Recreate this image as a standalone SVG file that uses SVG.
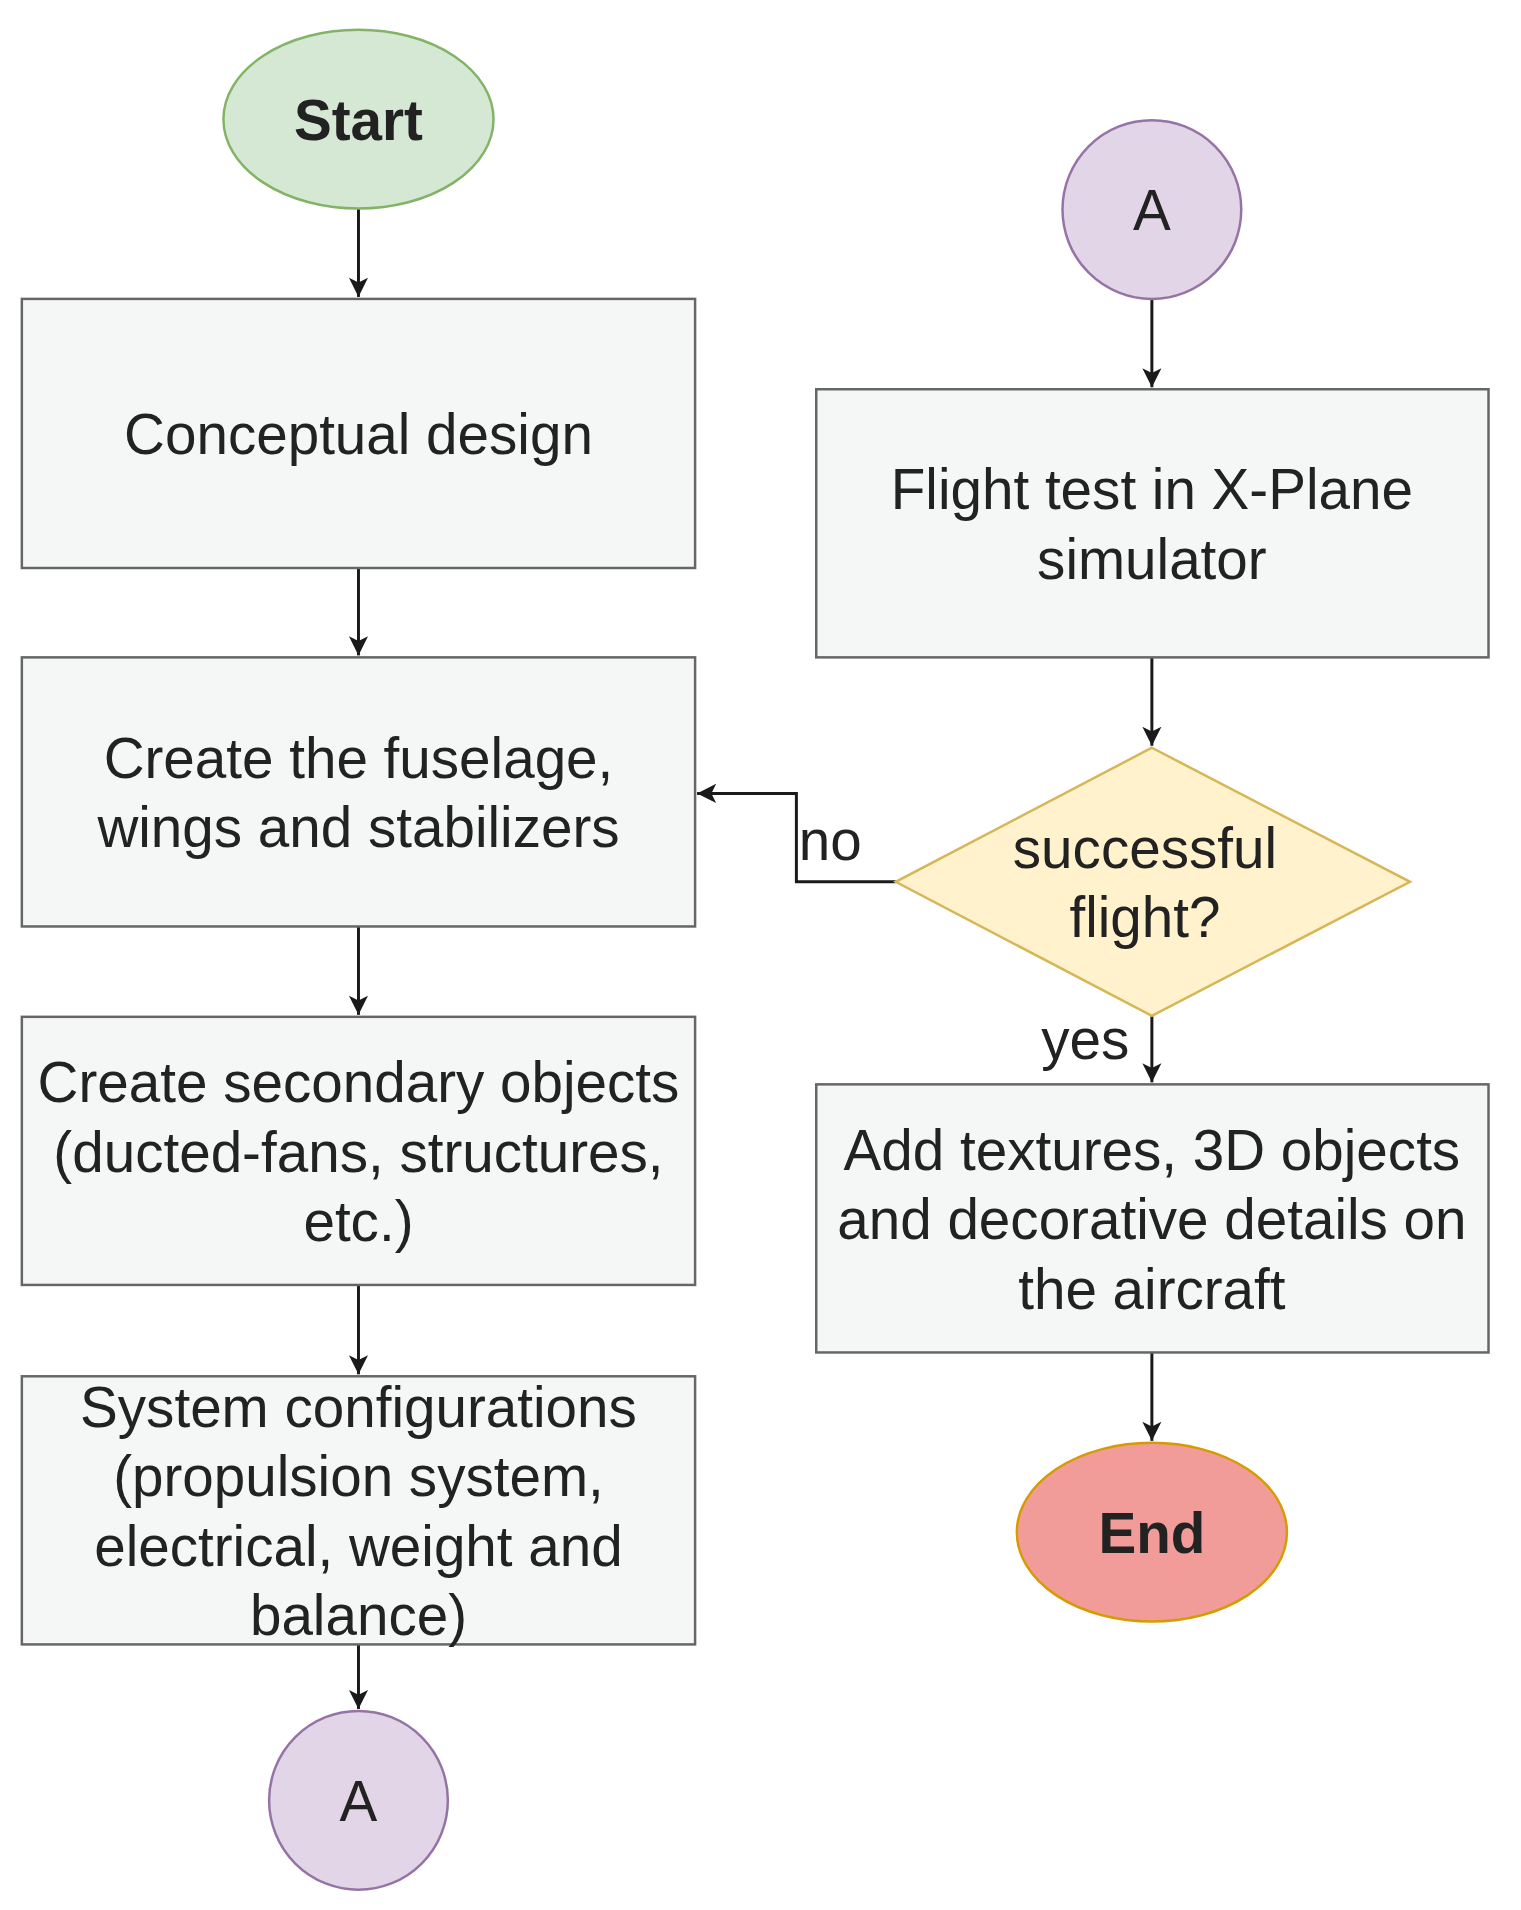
<svg xmlns="http://www.w3.org/2000/svg" width="1521" height="1910" viewBox="0 0 1521 1910">
<style>
.b{fill:#f5f7f6;stroke:#666;stroke-width:2.5}
.t{font-family:"Liberation Sans",Arial,sans-serif;font-size:57px;fill:#222;text-anchor:middle}
.bold{font-weight:bold}
.c{fill:none;stroke:#1a1a1a;stroke-width:3}
.a{fill:#e1d5e7;stroke:#9673a6;stroke-width:2.5}
</style>
<defs>
<marker id="m" viewBox="0 0 20 20" refX="18" refY="10" markerWidth="24" markerHeight="24" markerUnits="userSpaceOnUse" orient="auto">
<path d="M2,2 L18,10 L2,18 L6,10 Z" fill="#1a1a1a"/>
</marker>
</defs>
<rect width="1521" height="1910" fill="#fff"/>
<g transform="scale(0.993)">
<g id="connectors">
<path class="c" d="M361,210 V299" marker-end="url(#m)"/>
<path class="c" d="M361,572 V660" marker-end="url(#m)"/>
<path class="c" d="M361,933 V1022" marker-end="url(#m)"/>
<path class="c" d="M361,1294 V1384" marker-end="url(#m)"/>
<path class="c" d="M361,1656 V1721" marker-end="url(#m)"/>
<path class="c" d="M1160,301 V390" marker-end="url(#m)"/>
<path class="c" d="M1160,662 V751" marker-end="url(#m)"/>
<path class="c" d="M902,888 H802 V799 H702" marker-end="url(#m)"/>
<path class="c" d="M1160,1023 V1090" marker-end="url(#m)"/>
<path class="c" d="M1160,1362 V1451" marker-end="url(#m)"/>
<text class="t" x="836" y="866">no</text>
<text class="t" x="1093" y="1066">yes</text>
</g>
<g id="start"><ellipse cx="361" cy="120" rx="136" ry="90" fill="#d5e8d4" stroke="#82b366" stroke-width="2.5"/><text class="t bold" x="361" y="141">Start</text></g>
<g id="conceptual"><rect class="b" x="22" y="301" width="678" height="271"/><text class="t" x="361" y="457">Conceptual design</text></g>
<g id="fuselage"><rect class="b" x="22" y="662" width="678" height="271"/><text class="t" x="361" y="783">Create the fuselage,</text><text class="t" x="361" y="853">wings and stabilizers</text></g>
<g id="secondary"><rect class="b" x="22" y="1024" width="678" height="270"/><text class="t" x="361" y="1110">Create secondary objects</text><text class="t" x="361" y="1180">(ducted-fans, structures,</text><text class="t" x="361" y="1250">etc.)</text></g>
<g id="system"><rect class="b" x="22" y="1386" width="678" height="270"/><text class="t" x="361" y="1437">System configurations</text><text class="t" x="361" y="1507">(propulsion system,</text><text class="t" x="361" y="1577">electrical, weight and</text><text class="t" x="361" y="1647">balance)</text></g>
<g id="a1"><circle class="a" cx="361" cy="1813" r="90"/><text class="t" x="361" y="1834">A</text></g>
<g id="a2"><circle class="a" cx="1160" cy="211" r="90"/><text class="t" x="1160" y="232">A</text></g>
<g id="flight"><rect class="b" x="822" y="392" width="677" height="270"/><text class="t" x="1160" y="513">Flight test in X-Plane</text><text class="t" x="1160" y="583">simulator</text></g>
<g id="decision"><polygon points="1160,753 1420,888 1160,1023 902,888" fill="#fff2cc" stroke="#d6b656" stroke-width="2.5"/><text class="t" x="1153" y="874">successful</text><text class="t" x="1153" y="944">flight?</text></g>
<g id="textures"><rect class="b" x="822" y="1092" width="677" height="270"/><text class="t" x="1160" y="1178">Add textures, 3D objects</text><text class="t" x="1160" y="1248">and decorative details on</text><text class="t" x="1160" y="1318">the aircraft</text></g>
<g id="end"><ellipse cx="1160" cy="1543" rx="136" ry="90" fill="#f19c99" stroke="#d79b00" stroke-width="2.5"/><text class="t bold" x="1160" y="1564">End</text></g>
</g>
</svg>
